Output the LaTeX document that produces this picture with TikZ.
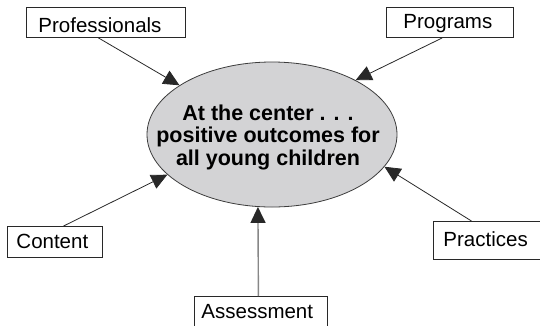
\documentclass[tikz,border=0pt]{standalone}
\usepackage{fontspec}
\setmainfont{Liberation Sans}
\usetikzlibrary{shapes.geometric,arrows.meta,calc}
\definecolor{hubfill}{RGB}{211,211,213}
\definecolor{hubline}{RGB}{60,60,60}
\definecolor{boxline}{RGB}{40,40,40}
\definecolor{arrowline}{RGB}{40,40,40}
\definecolor{softline}{RGB}{135,135,135}
\begin{document}
\begin{tikzpicture}[x=1pt,y=-1pt,
  topic/.style={draw=boxline, line width=0.9pt, anchor=north west, inner ysep=0pt,
                align=left, font=\fontsize{20.5}{24}\selectfont},
  feed/.style={draw=arrowline, line width=0.8pt,
               -{Triangle[length=16pt,width=15pt,color=arrowline]}},
]
\useasboundingbox (0,0) rectangle (540,325);
\clip (0,0) rectangle (540,325);

% central goal
\node[ellipse, draw=hubline, fill=hubfill, line width=0.8pt,
      minimum width=250pt, minimum height=145pt, inner sep=0pt] (hub) at (272,134.5) {};
% the base anchor of this three-line node sits on its last line
\node[font=\fontsize{21.5}{22.5}\selectfont\bfseries, align=center, anchor=base]
      (hubtext) at (268,165) {At the center . . .\\positive outcomes for\\all young children};

% contributing areas
\node[topic, text width=135pt, inner xsep=12pt, text height=25pt, text depth=5pt]
      (prof) at (26,7) {Professionals};
\node[topic, text width=93pt, inner xsep=17pt, text height=21.5pt, text depth=8.5pt]
      (prog) at (386,7) {Programs};
\node[topic, text width=77pt, inner xsep=9pt, text height=22pt, text depth=9pt]
      (cont) at (7,226) {Content};
\node[topic, text width=89pt, inner xsep=10pt, text height=25pt, text depth=13pt]
      (prac) at (433,221) {Practices};
\node[topic, text width=119pt, inner xsep=7pt, text height=22pt, text depth=14pt]
      (asmt) at (194,296) {Assessment};

% arrows into the centre
\draw[feed] ($(prof.south west)!0.453!(prof.south east)$) -- (hub.152.5);
\draw[feed] ($(prog.south west)!0.44!(prog.south east)$) -- (hub.33.3);
\draw[feed] ($(cont.north west)!0.59!(cont.north east)$) -- (hub.201.1);
\draw[feed] ($(prac.north west)!0.35!(prac.north east)$) -- (hub.344.2);
\draw[feed, draw=softline, line width=1.4pt] ($(asmt.north west)!0.481!(asmt.north east)$) -- (hub.259.2);
\end{tikzpicture}
\end{document}
